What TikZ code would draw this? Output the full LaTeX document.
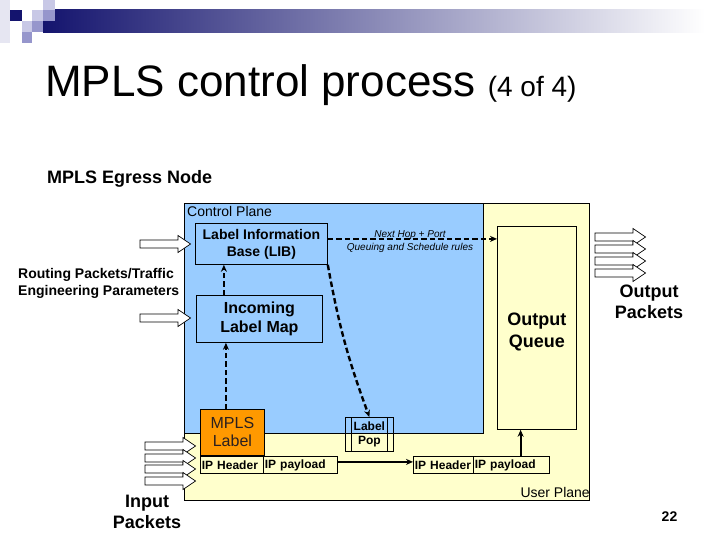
\documentclass[tikz,border=0pt]{standalone}
\usepackage{fontspec}
\setmainfont{Liberation Sans}
\usetikzlibrary{arrows.meta,calc}
\definecolor{cpblue}{HTML}{99CCFF}
\definecolor{upyellow}{HTML}{FFFFCC}
\definecolor{mplsorange}{HTML}{FF9900}
\definecolor{mplstext}{HTML}{2A2020}
\definecolor{navybar}{HTML}{14146E}
\definecolor{sqlight}{HTML}{C8C8E6}
\definecolor{sqmed}{HTML}{9696CC}
\definecolor{sqpale}{HTML}{E6E6F2}
\tikzset{
  pics/blockarrow/.style={code={
    \draw[fill=white,line width=0.7pt] (0,-4) -- (38,-4) -- (38,-8.5) -- (50.5,0) -- (38,8.5) -- (38,4) -- (0,4) -- cycle;}},
  box/.style={draw=black, line width=0.8pt, anchor=north west, inner sep=0pt, align=center},
  cell/.style={draw=black, line width=0.8pt, anchor=north west, inner ysep=0pt, inner xsep=1.5pt,
    minimum height=17pt, align=left, font=\fontsize{12}{14}\selectfont\bfseries},
  dashconn/.style={line width=2.4pt, dash pattern=on 5.5pt off 3pt, -{Stealth[length=7pt,width=6pt]}},
  solidconn/.style={line width=2.2pt, -{Stealth[length=7pt,width=6pt]}},
  lbl/.style={inner sep=0pt}
}
\begin{document}
\begin{tikzpicture}[x=1pt,y=-1pt]
\useasboundingbox (0,0) rectangle (720,540);
\fill[white] (0,0) rectangle (720,540);
% header decoration
\fill[sqpale] (0,0) rectangle (10,43);
\shade[left color=navybar, right color=white] (43,10) rectangle (705,33);
\fill[navybar] (10,10) rectangle (22,21);
\fill[sqlight] (32,10) rectangle (43,21);
\fill[sqlight] (43,0) rectangle (55,10);
\fill[sqmed] (43,10) rectangle (55,21);
\fill[sqlight] (22,21) rectangle (32,32);
\fill[sqmed] (32,21) rectangle (43,32);
\fill[sqmed] (22,32) rectangle (32,43);
% title
\node[lbl, anchor=base west, font=\fontsize{44}{50}\selectfont] (title) at (45,97)
  {MPLS control process \fontsize{28}{32}\selectfont(4 of 4)};
\node[lbl, anchor=base west, font=\fontsize{18}{22}\selectfont\bfseries] (egress) at (47,184) {MPLS Egress Node};
% planes
\node[box, fill=upyellow, minimum width=405pt, minimum height=297pt] (up) at (184,203) {};
\node[box, fill=cpblue, minimum width=299pt, minimum height=230pt] (cp) at (184,203) {};
\node[lbl, anchor=base west, font=\fontsize{14}{17}\selectfont] (cptext) at (187,217) {Control Plane};
\node[lbl, anchor=base east, font=\fontsize{14}{17}\selectfont] (uptext) at (590,497) {User Plane};
% boxes
\node[box, fill=cpblue, minimum width=132pt, minimum height=41pt, font=\fontsize{14}{17}\selectfont\bfseries] (lib) at (195,223) {Label Information\\Base (LIB)};
\node[box, fill=cpblue, minimum width=126pt, minimum height=47pt, font=\fontsize{16}{19}\selectfont\bfseries] (ilm) at (196,295) {Incoming\\Label Map};
\node[box, minimum width=79pt, minimum height=203pt, font=\fontsize{18}{22}\selectfont\bfseries] (oq) at (497,226) {\\[-2pt]Output\\Queue};
\node[box, fill=mplsorange, text=mplstext, minimum width=64pt, minimum height=46pt, font=\fontsize{16}{18}\selectfont] (mpls) at (200,409) {\color{mplstext}MPLS\\\color{mplstext}Label};
\node[box, minimum width=48pt, minimum height=34pt, font=\fontsize{12}{14}\selectfont\bfseries] (pop) at (345,417) {Label\\Pop};
\draw[line width=0.8pt] ([xshift=6pt]pop.north west) -- ([xshift=6pt]pop.south west);
\draw[line width=0.8pt] ([xshift=-6pt]pop.north east) -- ([xshift=-6pt]pop.south east);
\node[cell, minimum width=63pt, text width=60pt] (iph1) at (200,456) {IP Header};
\node[cell, minimum width=74pt, text width=71pt] (ipp1) at (263,456) {IP payload};
\node[cell, minimum width=60pt, text width=57pt] (iph2) at (413,456) {IP Header};
\node[cell, minimum width=76pt, text width=73pt] (ipp2) at (473,456) {IP payload};
% line labels
\node[lbl, font=\fontsize{10}{12}\selectfont\itshape] (nhp) at (410,235) {Next Hop + Port};
\node[lbl, font=\fontsize{10}{12}\selectfont\itshape] (qsr) at (410,248) {Queuing and Schedule rules};
% connectors
\coordinate (nh) at ($(lib.east)+(0,-5)$);
\draw[dashconn] (nh) -- (nh -| oq.west);
\coordinate (ilmtop) at ($(ilm.north west)!0.22!(ilm.north east)$);
\draw[dashconn] (ilmtop) -- (ilmtop |- lib.south);
\coordinate (mplstop) at ($(mpls.north west)!0.4!(mpls.north east)$);
\draw[dashconn] (mplstop) -- (mplstop |- ilm.south);
\draw[dashconn] (lib.south east) to[bend right=5] (pop.north);
\coordinate (ipl) at ($(ipp1.east)+(0,-3)$);
\draw[solidconn] (ipl) -- (ipl -| iph2.west);
\coordinate (ipu) at ($(ipp2.north west)!0.62!(ipp2.north east)$);
\draw[solidconn] (ipu) -- (ipu |- oq.south);
% block arrows
\pic at (140,244) {blockarrow};
\pic at (140,318) {blockarrow};
\pic at (145,446) {blockarrow};
\pic at (145,458) {blockarrow};
\pic at (145,469) {blockarrow};
\pic at (145,481) {blockarrow};
\pic at (595,237) {blockarrow};
\pic at (595,249) {blockarrow};
\pic at (595,261) {blockarrow};
\pic at (595,273) {blockarrow};
% outside texts
\node[lbl, anchor=west, align=left, font=\fontsize{14}{17}\selectfont\bfseries] (routing) at (18,283) {Routing Packets/Traffic\\Engineering Parameters};
\node[lbl, align=center, font=\fontsize{18}{21}\selectfont\bfseries] (outp) at (649,302) {Output\\Packets};
\node[lbl, align=center, font=\fontsize{18}{21}\selectfont\bfseries] (inp) at (147,512) {Input\\Packets};
\node[lbl, anchor=base, font=\fontsize{14}{17}\selectfont\bfseries] (pgno) at (669.5,521) {22};
\end{tikzpicture}
\end{document}
